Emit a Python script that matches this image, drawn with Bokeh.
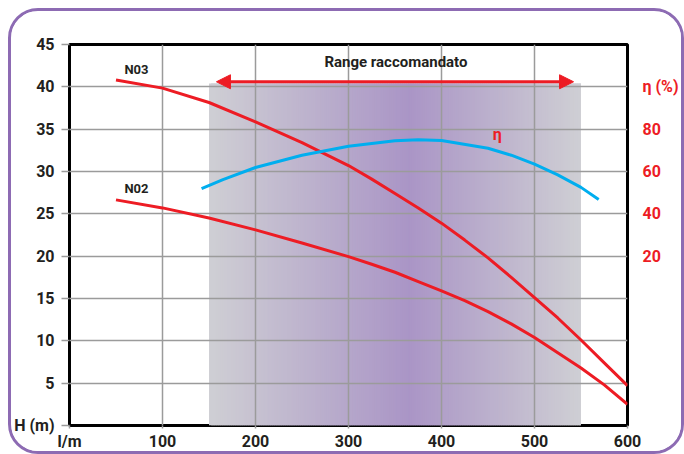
from bokeh.plotting import figure
from bokeh.models import Range1d, LinearAxis, FixedTicker, Arrow, NormalHead, Label
from bokeh.embed import file_html
from bokeh.resources import INLINE

# ---- data ----
flow = [50, 100, 150, 200, 250, 300, 325, 350, 375, 400, 425, 450, 475, 500, 525, 550, 575, 600]
head_n03 = [40.8, 39.85, 38.15, 35.85, 33.4, 30.7, 29.1, 27.4, 25.7, 23.9, 21.9, 19.8, 17.5, 15.1, 12.7, 10.1, 7.4, 4.7]
head_n02 = [26.65, 25.7, 24.5, 23.1, 21.55, 19.95, 19.05, 18.1, 17.0, 15.9, 14.75, 13.45, 12.0, 10.4, 8.6, 6.8, 4.8, 2.5]

eta_flow = [142, 165, 200, 250, 300, 350, 375, 400, 450, 475, 500, 525, 550, 569]
eta_pct = [51.9, 56.2, 61.9, 67.7, 71.9, 74.5, 75.0, 74.6, 71.0, 67.7, 63.5, 58.4, 52.5, 46.8]

range_lo, range_hi, range_peak, range_top = 150, 550, 365, 40.4
x_ticks = [0, 100, 200, 300, 400, 500, 600]
h_ticks = [0, 5, 10, 15, 20, 25, 30, 35, 40, 45]
eta_ticks = [20, 40, 60, 80, 100]

RED = "#ed1c24"
BLUE = "#00aeef"
DARK = "#231f20"
GRID = "#9b9b9b"
FONT = "Roboto"

p = figure(width=676, height=446, output_backend="svg", toolbar_location=None,
           x_range=Range1d(0, 600), y_range=Range1d(0, 45),
           min_border_left=57, min_border_right=60, min_border_top=33, min_border_bottom=32)
p.styles = {"border": "3px solid #8d6bb3", "border-radius": "30px", "overflow": "hidden",
            "margin-left": "8px", "margin-top": "8px"}
p.extra_y_ranges = {"eta": Range1d(-60, 120)}

p.outline_line_color = "black"
p.outline_line_width = 3
p.background_fill_color = "white"
p.border_fill_color = "white"

# gradient band (recommended range), strips overlap to avoid seams
n = 200
gray = (207, 207, 212)
purple = (170, 149, 198)
lefts, rights, cols = [], [], []
for i in range(n):
    a = range_lo + (range_hi - range_lo) * i / n
    b = range_lo + (range_hi - range_lo) * (i + 1) / n
    m = (a + b) / 2
    t = (range_peak - m) / (range_peak - range_lo) if m < range_peak else (m - range_peak) / (range_hi - range_peak)
    c = tuple(int(round(purple[k] * (1 - t) + gray[k] * t)) for k in range(3))
    lefts.append(a)
    rights.append(min(b + 2.5, range_hi))
    cols.append("#%02x%02x%02x" % c)
band = p.quad(left=lefts, right=rights, bottom=0, top=range_top, fill_color=cols, line_color=None)
band.level = "image"

# grid
p.xgrid.ticker = FixedTicker(ticks=[100, 200, 300, 400, 500])
p.ygrid.ticker = FixedTicker(ticks=[5, 10, 15, 20, 25, 30, 35, 40])
p.xgrid.grid_line_color = GRID
p.ygrid.grid_line_color = GRID
p.xgrid.grid_line_width = 1.5
p.ygrid.grid_line_width = 1.5

# curves
p.line(flow, head_n03, line_color=RED, line_width=3, line_join="round")
p.line(flow, head_n02, line_color=RED, line_width=3, line_join="round")
p.line(eta_flow, eta_pct, line_color=BLUE, line_width=3, line_join="round", y_range_name="eta")

# arrow
p.add_layout(Arrow(x_start=range_lo + 8, x_end=range_hi - 8, y_start=40.6, y_end=40.6,
                   line_color=RED, line_width=3,
                   start=NormalHead(size=14, fill_color=RED, line_color=RED),
                   end=NormalHead(size=14, fill_color=RED, line_color=RED)))

def lab(x, y, t, color=DARK, size="15px", yname="default"):
    p.add_layout(Label(x=x, y=y, text=t, text_color=color, text_font=FONT, text_font_size=size,
                       text_font_style="bold", text_align="center", text_baseline="middle",
                       y_range_name=yname))

lab(351, 42.9, "Range raccomandato", size="15px")
lab(72, 42.0, "N03", size="13px")
lab(72, 28.0, "N02", size="13px")
lab(460, 77.6, "η", color=RED, size="16px", yname="eta")

# axes
xa = p.xaxis[0]
xa.ticker = FixedTicker(ticks=x_ticks)
xa.major_label_overrides = {0: "l/m"}
ya = p.yaxis[0]
ya.ticker = FixedTicker(ticks=h_ticks)
ya.major_label_overrides = {0: "H (m)"}
for ax in (xa, ya):
    ax.axis_line_color = None
    ax.minor_tick_line_color = None
    ax.major_tick_line_color = GRID
    ax.major_tick_line_width = 1.5
    ax.major_tick_in = 0
    ax.major_label_text_font = FONT
    ax.major_label_text_font_style = "bold"
    ax.major_label_text_font_size = "16px"
    ax.major_label_text_color = DARK
xa.major_tick_out = 3
xa.major_label_standoff = 3
ya.major_tick_out = 8
ya.major_label_standoff = 7

ra = LinearAxis(y_range_name="eta", ticker=FixedTicker(ticks=eta_ticks))
ra.major_label_overrides = {100: "η (%)"}
ra.axis_line_color = None
ra.major_tick_line_color = None
ra.minor_tick_line_color = None
ra.major_label_text_font = FONT
ra.major_label_text_font_style = "bold"
ra.major_label_text_font_size = "16px"
ra.major_label_text_color = RED
ra.major_label_standoff = 9
p.add_layout(ra, "right")

open("out.html", "w").write(file_html(p, INLINE))
